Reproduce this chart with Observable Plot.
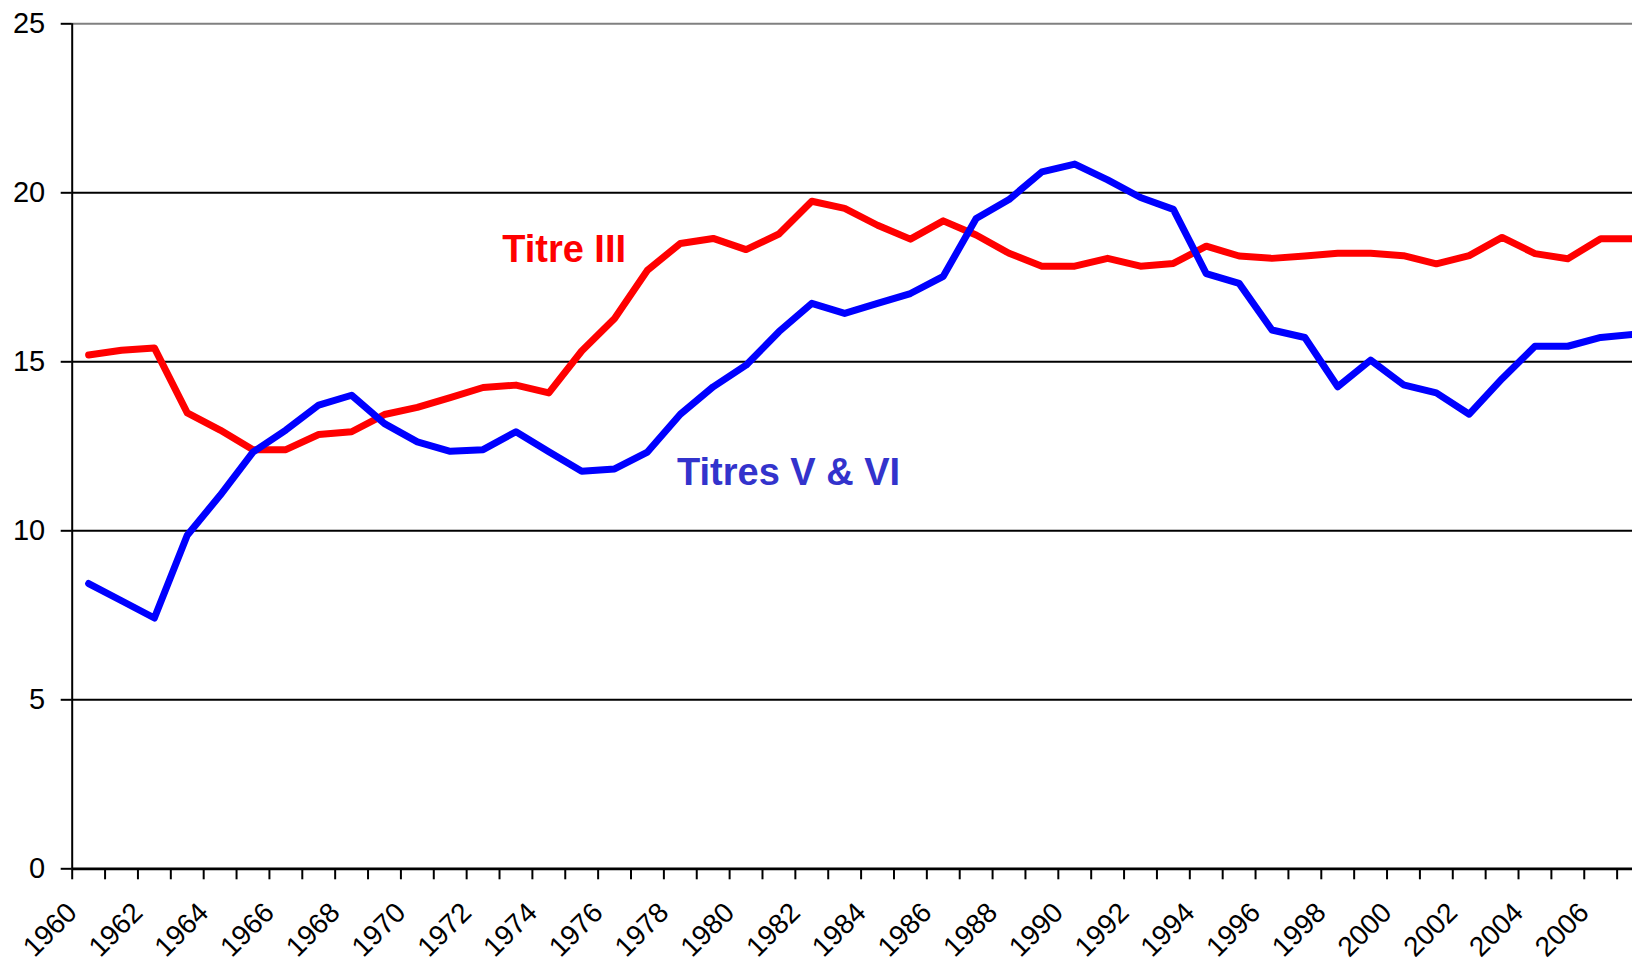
<!DOCTYPE html>
<html>
<head>
<meta charset="utf-8">
<script src="https://cdn.jsdelivr.net/npm/d3@7"></script>
<script src="https://cdn.jsdelivr.net/npm/@observablehq/plot@0.6"></script>
<style>
  html, body { margin: 0; padding: 0; background: white; overflow: hidden; }
  #chart { width: 1632px; height: 964px; overflow: hidden; }
</style>
</head>
<body>
<div id="chart"></div>
<script>
const years = [1960,1961,1962,1963,1964,1965,1966,1967,1968,1969,
               1970,1971,1972,1973,1974,1975,1976,1977,1978,1979,
               1980,1981,1982,1983,1984,1985,1986,1987,1988,1989,
               1990,1991,1992,1993,1994,1995,1996,1997,1998,1999,
               2000,2001,2002,2003,2004,2005,2006,2007];

const titreIII = [15.2,15.34,15.41,13.49,12.98,12.40,12.40,12.85,12.93,13.44,
                  13.65,13.94,14.24,14.31,14.08,15.32,16.28,17.71,18.50,18.65,
                  18.32,18.78,19.75,19.54,19.04,18.63,19.17,18.75,18.21,17.83,
                  17.83,18.06,17.83,17.91,18.42,18.13,18.06,18.13,18.21,18.21,
                  18.14,17.90,18.14,18.68,18.20,18.05,18.64,18.64];

const titresVVI = [8.44,7.93,7.42,9.87,11.05,12.33,12.98,13.72,14.01,13.17,
                   12.63,12.35,12.40,12.93,12.34,11.76,11.83,12.33,13.45,14.26,
                   14.90,15.89,16.73,16.43,16.73,17.02,17.53,19.24,19.80,20.62,
                   20.85,20.38,19.86,19.51,17.61,17.32,15.94,15.72,14.26,15.05,
                   14.32,14.08,13.45,14.50,15.46,15.46,15.72,15.81];

const yTicks = [0, 5, 10, 15, 20, 25];
const xTickYears = [...years, 2008];

const seriesLabels = [
  {text: "Titre III", year: 1973.08, value: 17.96, color: "#FF0000"},
  {text: "Titres V & VI", year: 1978.4, value: 11.35, color: "#3333CC"}
];

const rows = [
  ...years.map((year, i) => ({year, value: titreIII[i], series: "Titre III"})),
  ...years.map((year, i) => ({year, value: titresVVI[i], series: "Titres V & VI"}))
];

const font = "'Liberation Sans', Arial, Helvetica, sans-serif";

const chart = Plot.plot({
  width: 1632,
  height: 964,
  marginLeft: 71.7,
  marginTop: 23.3,
  marginBottom: 95.7,
  marginRight: 0,
  style: {fontFamily: font, fontSize: "29px", background: "white", color: "black"},
  x: {type: "linear", domain: [1960, 2008], range: [71.7, 1649.5]},
  y: {domain: [0, 25]},
  color: {domain: ["Titre III", "Titres V & VI"], range: ["#FF0000", "#0000FF"]},
  marks: [
    Plot.ruleY(yTicks.filter(v => v > 0 && v < 25), {stroke: "black", strokeWidth: 2}),
    Plot.ruleY([25], {stroke: "#808080", strokeWidth: 2}),
    Plot.axisY({ticks: yTicks, tickSize: 11, tickPadding: 16, fontSize: 29, label: null, strokeWidth: 2, stroke: "black"}),
    Plot.ruleX([1960], {y1: 0, y2: 25, stroke: "black", strokeWidth: 2}),
    Plot.axisX({ticks: xTickYears, tickSize: 11, tickPadding: 28, tickRotate: -45, fontSize: 28, label: null,
                tickFormat: d => (d % 2 === 0 && d <= 2006) ? String(d) : "", strokeWidth: 2, stroke: "black"}),
    Plot.ruleY([0], {stroke: "black", strokeWidth: 2.8}),
    Plot.line(rows, {x: d => d.year + 0.5, y: "value", z: "series", stroke: "series",
                     strokeWidth: 7, strokeLinejoin: "round", strokeLinecap: "round"}),
    Plot.text(seriesLabels, {x: "year", y: "value", text: "text", fill: "color",
                             textAnchor: "start", lineAnchor: "bottom", fontSize: 38, fontWeight: "bold"})
  ]
});

document.getElementById("chart").appendChild(chart);
</script>
</body>
</html>
